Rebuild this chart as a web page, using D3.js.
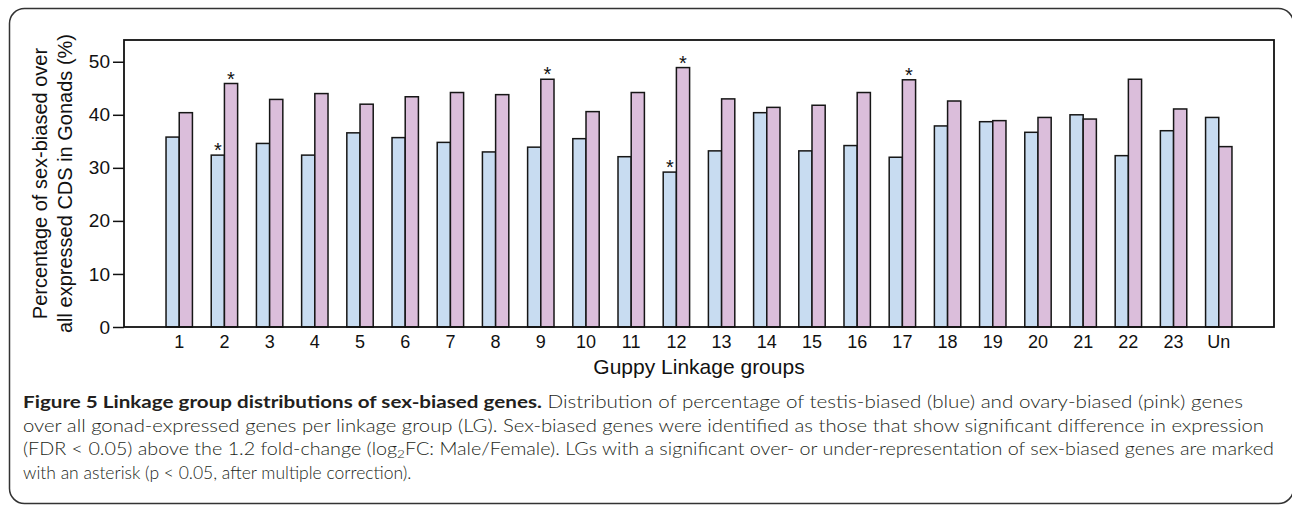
<!DOCTYPE html>
<html>
<head>
<meta charset="utf-8">
<script src="https://cdn.jsdelivr.net/npm/d3@7"></script>
<style>
  html, body { margin: 0; padding: 0; background: #fff; }
  svg { display: block; }
  .axis text { font-family: "Liberation Sans", Arial, sans-serif; fill: #111; }
</style>
</head>
<body>
<div class="figure"></div>
<script>
'use strict';
(function() {
  // Data
  var groups = ['1','2','3','4','5','6','7','8','9','10','11','12','13','14','15','16','17','18','19','20','21','22','23','Un'];
  var testis = [35.8, 32.4, 34.6, 32.4, 36.6, 35.7, 34.8, 33.0, 33.9, 35.5, 32.1, 29.2, 33.2, 40.4, 33.2, 34.2, 32.0, 37.9, 38.7, 36.7, 40.0, 32.3, 37.0, 39.5];
  var ovary  = [40.4, 45.9, 42.9, 44.0, 42.0, 43.4, 44.2, 43.8, 46.7, 40.6, 44.2, 48.9, 43.0, 41.4, 41.8, 44.2, 46.6, 42.6, 38.9, 39.5, 39.2, 46.7, 41.1, 34.0];
  var testisStars = ['2', '12'];
  var ovaryStars = ['2', '9', '12', '17'];
  var yTicks = [0, 10, 20, 30, 40, 50];

  var COLORS = { testis: '#c8dcf1', ovary: '#dbbedb' };

  // Size
  var w = 1292;
  var h = 505;
  var left = 124, right = 1274, top = 40, bottom = 327;

  var svg = d3.select('.figure')
    .append('svg')
    .attr('width', w)
    .attr('height', h);

  // Outer rounded frame
  svg.append('rect')
    .attr('x', 9.5).attr('y', 8.5)
    .attr('width', 1284).attr('height', 495)
    .attr('rx', 15).attr('ry', 15)
    .attr('fill', 'none')
    .attr('stroke', '#333')
    .attr('stroke-width', 1.5);

  // Scales
  var x0 = d3.scaleBand()
    .domain(groups)
    .range([left, right])
    .paddingInner(0.416)
    .paddingOuter(0.93);

  var x1 = d3.scaleBand()
    .domain(['testis', 'ovary'])
    .range([0, x0.bandwidth()]);

  var y = d3.scaleLinear()
    .domain([0, 54.1])
    .range([bottom, top]);

  // Bars
  var rows = groups.map(function(g, i) {
    return { group: g, values: [
      { key: 'testis', value: testis[i], star: testisStars.indexOf(g) >= 0 },
      { key: 'ovary', value: ovary[i], star: ovaryStars.indexOf(g) >= 0 }
    ]};
  });

  var grp = svg.append('g')
    .attr('class', 'data')
    .selectAll('g')
    .data(rows)
    .enter()
    .append('g')
    .attr('transform', function(d) { return 'translate(' + x0(d.group) + ',0)'; });

  grp.selectAll('rect')
    .data(function(d) { return d.values; })
    .enter()
    .append('rect')
    .attr('x', function(d) { return x1(d.key); })
    .attr('y', function(d) { return y(d.value); })
    .attr('width', x1.bandwidth())
    .attr('height', function(d) { return y(0) - y(d.value); })
    .attr('fill', function(d) { return COLORS[d.key]; })
    .attr('stroke', '#161616')
    .attr('stroke-width', 1.5);

  // Asterisks
  grp.selectAll('text')
    .data(function(d) { return d.values.filter(function(v) { return v.star; }); })
    .enter()
    .append('text')
    .attr('x', function(d) { return x1(d.key) + x1.bandwidth() / 2; })
    .attr('y', function(d) { return y(d.value) + 2; })
    .attr('text-anchor', 'middle')
    .attr('font-family', '"Liberation Sans", Arial, sans-serif')
    .attr('font-size', 20)
    .attr('fill', '#111')
    .text('*');

  // Plot frame
  svg.append('rect')
    .attr('x', left).attr('y', top)
    .attr('width', right - left).attr('height', bottom - top)
    .attr('fill', 'none')
    .attr('stroke', '#111')
    .attr('stroke-width', 1.8);

  // Y axis
  var yAxis = d3.axisLeft(y)
    .tickValues(yTicks)
    .tickSizeInner(11)
    .tickSizeOuter(0)
    .tickPadding(3);

  var gy = svg.append('g')
    .attr('class', 'axis')
    .attr('transform', 'translate(' + left + ',0)')
    .call(yAxis);
  gy.select('.domain').remove();
  gy.selectAll('line').attr('stroke', '#111').attr('stroke-width', 1.5);
  gy.selectAll('text').attr('font-size', 19);

  // X axis
  var xAxis = d3.axisBottom(x0)
    .tickSizeInner(0)
    .tickSizeOuter(0)
    .tickPadding(8);

  var gx = svg.append('g')
    .attr('class', 'axis')
    .attr('transform', 'translate(0,' + bottom + ')')
    .call(xAxis);
  gx.select('.domain').remove();
  gx.selectAll('text').attr('font-size', 18);

  // Axis titles
  svg.append('text')
    .attr('x', (left + right) / 2)
    .attr('y', 374)
    .attr('text-anchor', 'middle')
    .attr('font-family', '"Liberation Sans", Arial, sans-serif')
    .attr('font-size', 21)
    .attr('fill', '#111')
    .text('Guppy Linkage groups');

  var yt = svg.append('text')
    .attr('transform', 'translate(47,' + ((top + bottom) / 2) + ') rotate(-90)')
    .attr('text-anchor', 'middle')
    .attr('font-family', '"Liberation Sans", Arial, sans-serif')
    .attr('font-size', 20)
    .attr('fill', '#111');
  yt.append('tspan').attr('x', 0).attr('y', 0).text('Percentage of sex-biased over');
  yt.append('tspan').attr('x', 0).attr('y', 25).text('all expressed CDS in Gonads (%)');

  // Caption (justified lines, last line left natural)
  var capX = 23;
  var capSize = 17.5;
  var cap = svg.append('g')
    .attr('font-family', 'Lato, "Open Sans", sans-serif')
    .attr('font-weight', 300)
    .attr('fill', '#231f20')
    .attr('font-size', capSize);

  var l1 = cap.append('text').attr('x', capX).attr('y', 408);
  l1.append('tspan').attr('font-weight', 'bold').text('Figure 5 Linkage group distributions of sex-biased genes.');
  l1.append('tspan').text(' Distribution of percentage of testis-biased (blue) and ovary-biased (pink) genes');

  var l2 = cap.append('text').attr('x', capX).attr('y', 431.5)
    .text('over all gonad-expressed genes per linkage group (LG). Sex-biased genes were identified as those that show significant difference in expression');

  var l3 = cap.append('text').attr('x', capX).attr('y', 455);
  l3.append('tspan').text('(FDR < 0.05) above the 1.2 fold-change (log');
  l3.append('tspan').attr('font-size', 12).attr('dy', 3).text('2');
  l3.append('tspan').attr('dy', -3).text('FC: Male/Female). LGs with a significant over- or under-representation of sex-biased genes are marked');

  cap.append('text').attr('x', capX).attr('y', 478.5)
    .text('with an asterisk (p < 0.05, after multiple correction).');

  var justify = function(sel, endX) {
    var spaces = (sel.text().match(/ /g) || []).length;
    var natural = sel.node().getComputedTextLength();
    var extra = (endX - capX - natural) / spaces;
    if (Math.abs(extra) < 3) {
      sel.attr('word-spacing', extra);
    } else {
      sel.attr('textLength', endX - capX).attr('lengthAdjust', 'spacingAndGlyphs');
    }
  };
  justify(l1, 1243);
  justify(l2, 1264);
  justify(l3, 1274);
})();
</script>
</body>
</html>
